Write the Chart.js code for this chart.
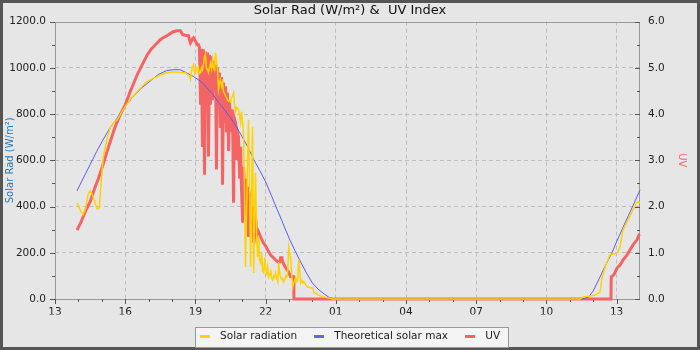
<!DOCTYPE html>
<html>
<head>
<meta charset="utf-8">
<title>Solar Rad &amp; UV Index</title>
<script src="https://cdn.jsdelivr.net/npm/chart.js@4.4.1/dist/chart.umd.min.js"></script>
<style>
  html, body { margin: 0; padding: 0; background: #e6e6e6; }
  canvas { display: block; }
</style>
</head>
<body>
<canvas id="solarChart" width="700" height="350"></canvas>
<script>
// Times are decimal hours from midnight of the first day; 24+ is the next morning.
const solarTimes = [
  13.94, 14.10, 14.20, 14.30, 14.42, 14.50, 14.60, 14.67, 14.80, 14.89,
  15.01, 15.06, 15.23, 15.36, 15.50, 15.66, 15.83, 16.00, 16.26, 16.51,
  16.73, 16.94, 17.15, 17.37, 17.58, 17.80, 18.02, 18.23, 18.40, 18.57,
  18.74, 18.79, 18.83, 18.87, 18.92, 18.96, 19.00, 19.04, 19.09, 19.13,
  19.17, 19.22, 19.26, 19.30, 19.34, 19.39, 19.43, 19.47, 19.52, 19.56,
  19.60, 19.64, 19.69, 19.73, 19.77, 19.82, 19.86, 19.90, 19.94, 19.99,
  20.03, 20.07, 20.12, 20.16, 20.20, 20.24, 20.29, 20.33, 20.37, 20.42,
  20.46, 20.50, 20.54, 20.59, 20.63, 20.67, 20.72, 20.76, 20.80, 20.84,
  20.89, 20.93, 20.97, 21.02, 21.06, 21.10, 21.14, 21.19, 21.23, 21.27,
  21.32, 21.36, 21.40, 21.44, 21.49, 21.53, 21.57, 21.62, 21.66, 21.70,
  21.74, 21.79, 21.83, 21.87, 21.92, 21.96, 22.00, 22.05, 22.09, 22.13,
  22.18, 22.22, 22.26, 22.30, 22.35, 22.39, 22.43, 22.48, 22.52, 22.56,
  22.60, 22.64, 22.69, 22.73, 22.77, 22.82, 22.86, 22.90, 22.94, 22.99,
  23.03, 23.07, 23.12, 23.16, 23.20, 23.25, 23.29, 23.33, 23.37, 23.42,
  23.46, 23.50, 23.55, 23.59, 23.63, 23.72, 23.80, 23.90, 24.02, 24.06,
  24.17, 24.27, 24.38, 24.49, 24.60, 24.70, 24.87,
  35.44, 35.56, 35.80, 36.08, 36.29, 36.38, 36.50, 36.71, 36.85, 37.02,
  37.15, 37.27, 37.49, 37.70, 37.87, 38.00
];
const solarValues = [
  416, 380, 364, 390, 455, 468, 450, 430, 390, 395,
  550, 611, 698, 741, 762, 775, 805, 832, 870, 897,
  920, 940, 952, 962, 972, 979, 982, 982, 980, 979,
  965, 950, 985, 1005, 1014, 975, 990, 1000, 985, 1000,
  975, 979, 1000, 990, 1010, 1050, 1060, 1000, 990, 979,
  1000, 1020, 995, 1036, 1000, 990, 1066, 1030, 1000, 905,
  930, 950, 920, 936, 897, 890, 880, 870, 862, 855,
  860, 853, 870, 880, 892, 840, 810, 830, 825, 819,
  790, 762, 810, 760, 702, 450, 139, 400, 600, 775,
  450, 139, 450, 745, 113, 350, 546, 260, 182, 269,
  170, 156, 200, 120, 113, 180, 130, 110, 139, 95,
  105, 120, 90, 82, 100, 95, 113, 90, 74, 160,
  110, 95, 85, 90, 74, 85, 100, 95, 113, 225,
  200, 182, 100, 52, 69, 85, 90, 75, 80, 169,
  120, 69, 80, 70, 75, 60, 52, 50, 48, 30,
  22, 17, 12, 9, 6, 4, 0,
  0, 9, 12, 17, 30, 95, 134, 191, 195, 199,
  225, 299, 342, 386, 420, 416
];

const maxTimes = [
  13.94, 14.21, 14.50, 14.78, 15.07, 15.35, 15.64, 16.00, 16.35, 16.70,
  17.06, 17.41, 17.77, 18.06, 18.34, 18.63, 18.91, 19.25, 19.50, 19.75,
  20.00, 20.25, 20.50, 20.75, 21.00, 21.25, 21.50, 21.75, 22.00, 22.25,
  22.50, 22.75, 23.00, 23.25, 23.50, 23.75, 24.00, 24.25, 24.50, 24.70, 24.90,
  35.55, 35.80, 36.00, 36.29, 36.50, 36.80, 37.00, 37.36, 37.50, 37.75, 38.00
];
const maxValues = [
  468, 523, 581, 638, 692, 740, 780, 833, 877, 913,
  942, 971, 988, 992, 992, 978, 963, 940, 914, 884,
  849, 818, 784, 745, 702, 655, 602, 556, 507, 447,
  386, 325, 264, 210, 160, 112, 69, 42, 22, 8, 0,
  0, 8, 35, 95, 140, 199, 248, 329, 360, 415, 472
];

const uvTimes = [
  13.94, 14.10, 14.30, 14.50, 14.70, 14.85, 15.01, 15.20, 15.36, 15.55,
  15.79, 16.00, 16.21, 16.35, 16.51, 16.73, 16.94, 17.10, 17.29, 17.50,
  17.65, 17.80, 17.95, 18.06, 18.20, 18.36, 18.45, 18.60, 18.70, 18.75,
  18.79, 18.87, 18.92, 19.00, 19.09, 19.13, 19.17, 19.22, 19.26, 19.30,
  19.34, 19.39, 19.43, 19.47, 19.52, 19.56, 19.60, 19.64, 19.69, 19.73,
  19.77, 19.82, 19.86, 19.90, 19.94, 19.99, 20.03, 20.07, 20.12, 20.16,
  20.20, 20.24, 20.29, 20.33, 20.37, 20.42, 20.46, 20.50, 20.54, 20.59,
  20.63, 20.67, 20.72, 20.76, 20.80, 20.84, 20.89, 20.93, 20.97, 21.02,
  21.06, 21.10, 21.14, 21.19, 21.23, 21.27, 21.32, 21.36, 21.40, 21.44,
  21.49, 21.53, 21.57, 21.62, 21.66, 21.70, 21.79, 21.91, 22.00, 22.09,
  22.22, 22.34, 22.52, 22.60, 22.64, 22.70, 22.73, 22.86, 22.99, 23.07,
  23.20, 23.21,
  36.76, 36.77, 36.88, 37.02, 37.15, 37.27, 37.44, 37.57, 37.70, 37.87,
  37.96, 38.00
];
const uvValues = [
  1.49, 1.65, 1.90, 2.10, 2.40, 2.60, 2.84, 3.15, 3.40, 3.70,
  3.99, 4.20, 4.48, 4.65, 4.85, 5.07, 5.28, 5.40, 5.50, 5.61,
  5.66, 5.70, 5.75, 5.78, 5.80, 5.80, 5.72, 5.70, 5.70, 5.60,
  5.54, 5.62, 5.65, 5.58, 5.50, 5.50, 5.45, 4.20, 5.41, 3.29,
  5.40, 2.69, 5.35, 4.60, 5.33, 3.08, 5.28, 4.20, 5.25, 4.30,
  5.15, 4.60, 5.07, 2.80, 5.00, 4.40, 4.90, 3.70, 4.80, 2.47,
  4.68, 3.80, 4.60, 3.60, 4.46, 3.20, 4.30, 3.60, 4.10, 3.94,
  2.08, 3.90, 3.81, 3.00, 3.60, 3.51, 2.60, 3.29, 2.40, 1.65,
  2.86, 2.20, 2.60, 1.80, 2.43, 1.34, 2.30, 2.14, 1.60, 2.00,
  1.21, 1.90, 1.78, 1.40, 1.49, 1.45, 1.34, 1.21, 1.15, 1.06,
  0.95, 0.89, 0.80, 0.80, 0.89, 0.89, 0.80, 0.67, 0.58, 0.48,
  0.48, 0,
  0, 0.48, 0.52, 0.67, 0.74, 0.84, 0.95, 1.06, 1.17, 1.28,
  1.39, 1.40
];

const xMin = 13, xMax = 38;

function toPoints(times, values) {
  return times.map((t, i) => ({x: t, y: values[i]}));
}

// short line used as the legend key
function legendSwatch(color) {
  const c = document.createElement('canvas');
  c.width = 15;
  c.height = 3;
  const g = c.getContext('2d');
  g.fillStyle = color;
  g.fillRect(0, 0, 10, 3);
  return c;
}

function isMajor(scale, v) {
  if (scale.id === 'x') return (v - xMin) % 3 === 0;
  if (scale.id === 'y') return v % 200 === 0;
  return Number.isInteger(v);
}

const frame = {
  id: 'frame',
  beforeDraw(chart) {
    const ctx = chart.ctx;
    ctx.save();
    ctx.fillStyle = '#e6e6e6';
    ctx.fillRect(0, 0, chart.width, chart.height);
    ctx.strokeStyle = '#555555';
    ctx.lineWidth = 3;
    ctx.strokeRect(1.5, 1.5, chart.width - 3, chart.height - 3);

    // box round the legend
    const boxes = chart.legend.legendHitBoxes;
    if (boxes.length) {
      const first = boxes[0], last = boxes[boxes.length - 1];
      const cy = first.top + first.height / 2;
      const l = Math.round(first.left - 5) + 0.5;
      const r = Math.round(last.left + last.width + 8) + 0.5;
      ctx.fillStyle = '#f4f4f4';
      ctx.fillRect(l, Math.round(cy - 10) + 0.5, r - l, 20);
      ctx.strokeStyle = '#999999';
      ctx.lineWidth = 1;
      ctx.strokeRect(l, Math.round(cy - 10) + 0.5, r - l, 20);
    }
    ctx.restore();
  },
  beforeDatasetsDraw(chart) {
    const {ctx, chartArea: a} = chart;
    ctx.save();
    ctx.strokeStyle = '#9a9a9a';
    ctx.lineWidth = 1;
    ctx.strokeRect(Math.round(a.left) + 0.5, Math.round(a.top) + 0.5,
      Math.round(a.right - a.left) - 1, Math.round(a.bottom - a.top));

    // tick marks: outside on the left and bottom, inside on the right
    ctx.strokeStyle = '#555555';
    ['x', 'y', 'y1'].forEach(id => {
      const scale = chart.scales[id];
      scale.ticks.forEach(t => {
        if (id === 'x' && t.value > xMax - 0.5) return;
        const len = isMajor(scale, t.value) ? 5 : 3;
        const p = Math.round(scale.getPixelForValue(t.value)) + 0.5;
        ctx.beginPath();
        if (id === 'x') {
          ctx.moveTo(p, a.bottom);
          ctx.lineTo(p, a.bottom + len);
        } else if (id === 'y') {
          ctx.moveTo(a.left - len, p);
          ctx.lineTo(a.left, p);
        } else {
          ctx.moveTo(a.right - len, p);
          ctx.lineTo(a.right, p);
        }
        ctx.stroke();
      });
    });
    ctx.restore();
  }
};

const ctx = document.getElementById('solarChart').getContext('2d');
new Chart(ctx, {
  type: 'line',
  data: {
    datasets: [{
      label: 'Solar radiation',
      data: toPoints(solarTimes, solarValues),
      borderColor: '#ffd200',
      backgroundColor: '#ffd200',
      borderWidth: 1.5,
      pointStyle: legendSwatch('#ffd200'),
      yAxisID: 'y'
    }, {
      label: 'Theoretical solar max',
      data: toPoints(maxTimes, maxValues),
      borderColor: '#5c5cf0',
      backgroundColor: '#5c5cf0',
      borderWidth: 1,
      pointStyle: legendSwatch('#6464f0'),
      yAxisID: 'y'
    }, {
      label: 'UV',
      data: toPoints(uvTimes, uvValues),
      borderColor: '#f46464',
      backgroundColor: '#f46464',
      borderWidth: 3,
      pointStyle: legendSwatch('#f46464'),
      yAxisID: 'y1'
    }]
  },
  options: {
    responsive: false,
    animation: false,
    devicePixelRatio: 1,
    events: [],
    layout: {padding: {left: 0, right: 0, top: 0, bottom: -2}},
    elements: {
      point: {radius: 0},
      line: {tension: 0}
    },
    datasets: {line: {clip: false}},
    scales: {
      x: {
        type: 'linear',
        min: xMin,
        max: xMax,
        afterFit: s => { s.height = 15.5; },
        grid: {
          drawTicks: false,
          color: c => (c.tick.value - xMin) % 3 === 0 && c.tick.value > xMin ? '#bdbdbd' : 'transparent'
        },
        border: {display: false, dash: [4, 3]},
        ticks: {
          stepSize: 1,
          autoSkip: false,
          maxRotation: 0,
          includeBounds: false,
          padding: 7,
          color: '#222',
          font: {family: 'DejaVu Sans', size: 10.5},
          callback: v => (v - xMin) % 3 === 0 ? String(v % 24).padStart(2, '0') : ''
        }
      },
      y: {
        position: 'left',
        min: 0,
        max: 1200,
        afterFit: s => { s.width = 55; },
        grid: {
          drawTicks: false,
          color: c => c.tick.value % 200 === 0 && c.tick.value > 0 && c.tick.value < 1200 ? '#bdbdbd' : 'transparent'
        },
        border: {display: false, dash: [4, 3]},
        ticks: {
          stepSize: 100,
          autoSkip: false,
          padding: 9,
          color: '#222',
          font: {family: 'DejaVu Sans', size: 10.5},
          callback: v => v % 200 === 0 ? v.toFixed(1) : ''
        },
        title: {
          display: true,
          text: 'Solar Rad (W/m²)',
          color: '#2f77a8',
          font: {family: 'DejaVu Sans', size: 10},
          padding: {top: 4, bottom: 0}
        }
      },
      y1: {
        position: 'right',
        min: 0,
        max: 6,
        afterFit: s => { s.width = 60; },
        grid: {drawTicks: false, drawOnChartArea: false},
        border: {display: false},
        ticks: {
          stepSize: 0.5,
          autoSkip: false,
          padding: 8,
          color: '#222',
          font: {family: 'DejaVu Sans', size: 10.5},
          callback: v => Number.isInteger(v) ? v.toFixed(1) : ''
        },
        title: {
          display: true,
          text: 'UV',
          color: '#f06868',
          font: {family: 'DejaVu Sans', size: 10},
          padding: {top: 12.5, bottom: 0}
        }
      }
    },
    plugins: {
      title: {
        display: true,
        text: 'Solar Rad (W/m²) &  UV Index',
        color: '#111',
        font: {family: 'DejaVu Sans', size: 13, weight: 'normal'},
        padding: {top: 3, bottom: 3}
      },
      legend: {
        position: 'bottom',
        labels: {
          usePointStyle: true,
          pointStyleWidth: 15,
          padding: 17,
          color: '#222',
          font: {family: 'DejaVu Sans', size: 10.5}
        }
      },
      tooltip: {enabled: false}
    }
  },
  plugins: [frame]
});
</script>
</body>
</html>
